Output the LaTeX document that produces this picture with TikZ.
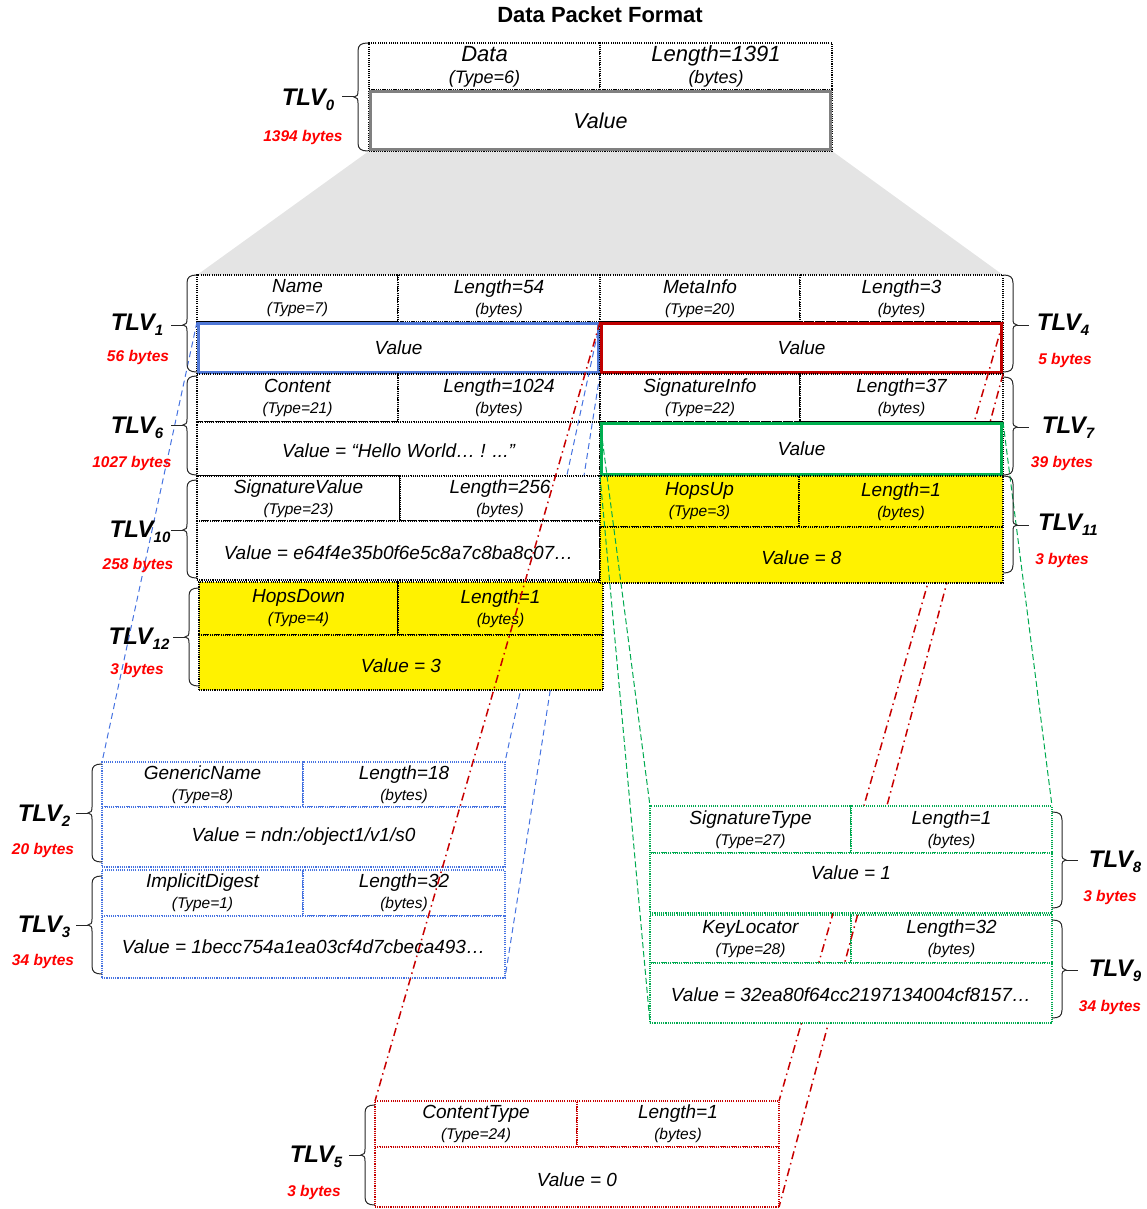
\documentclass[tikz,border=0pt]{standalone}
\usepackage{fontspec}
\setmainfont{Liberation Sans}
\definecolor{bluebox}{RGB}{80,120,215}
\definecolor{blueline}{RGB}{70,115,225}
\definecolor{redbox}{RGB}{192,0,0}
\definecolor{redline}{RGB}{200,0,0}
\definecolor{greenbox}{RGB}{0,176,80}
\definecolor{greenline}{RGB}{0,170,80}
\definecolor{graybox}{RGB}{128,128,128}
\definecolor{trapgray}{RGB}{228,228,228}
\definecolor{bytered}{RGB}{255,0,0}
\newcommand\mainft{\fontsize{19}{21}\selectfont\itshape}
\newcommand\subft{\fontsize{15.5}{17}\selectfont}
\newcommand\tsub[1]{\raisebox{-5pt}{\fontsize{15}{15}\selectfont #1}}
\tikzset{
  cellbox/.style={rectangle, draw=black, fill=white, inner sep=0pt, outer sep=0pt, line width=1.1pt, dash pattern=on 1.1pt off 1.1pt},
  thickbox/.style={rectangle, inner sep=0pt, outer sep=0pt, line width=3.2pt},
  ht/.style={font=\mainft, align=center, inner sep=0pt},
  vt/.style={font=\mainft, inner sep=0pt},
  bluedash/.style={draw=blueline, line width=1pt, dash pattern=on 6pt off 4pt},
  greendash/.style={draw=greenline, line width=1pt, dash pattern=on 6pt off 3pt},
  reddd/.style={draw=redline, line width=1.5pt, dash pattern=on 8pt off 4pt on 1.5pt off 4pt},
  bracestyle/.style={draw=black!85, line width=1pt},
  tlvfont/.style={font=\fontsize{24}{26}\selectfont\bfseries\itshape, inner sep=0pt},
  bytesfont/.style={font=\fontsize{15.5}{17}\selectfont\bfseries\itshape, text=bytered, inner sep=0pt}
}
% single cell: name, x1, y1, x2, y2, style
\newcommand\tcell[6]{\node[cellbox,#6,minimum width={#4-#2},minimum height={#5-#3}] (#1) at ({(#2+#4)/2},{(#3+#5)/2}) {};}
% full TLV: prefix, x1, xm, x2, y1, ym, y2, style
\newcommand\tcells[8]{\tcell{#1-t}{#2}{#5}{#3}{#6}{#8}\tcell{#1-l}{#3}{#5}{#4}{#6}{#8}\tcell{#1-v}{#2}{#6}{#4}{#7}{#8}}
% header texts: prefix, type name, type number, length
\newcommand\thead[4]{%
  \node[ht] (#1-tt) at (#1-t) {#2\\{\subft(Type=#3)}};
  \node[ht] (#1-lt) at (#1-l) {Length=#4\\{\subft(bytes)}};}
% left brace: xb, y1, y2, ym
\newcommand\bracel[4]{%
  \draw[bracestyle] (#1,#2) .. controls (#1-7,#2) and (#1-10,#2+2) .. (#1-10,#2+8) -- (#1-10,#4-6) .. controls (#1-10,#4-2) and (#1-11,#4) .. (#1-14,#4) .. controls (#1-11,#4) and (#1-10,#4+2) .. (#1-10,#4+6) -- (#1-10,#3-8) .. controls (#1-10,#3-2) and (#1-7,#3) .. (#1,#3);
  \draw[bracestyle] (#1-14,#4) -- (#1-26,#4);}
\newcommand\bracer[4]{%
  \draw[bracestyle] (#1,#2) .. controls (#1+7,#2) and (#1+10,#2+2) .. (#1+10,#2+8) -- (#1+10,#4-6) .. controls (#1+10,#4-2) and (#1+11,#4) .. (#1+14,#4) .. controls (#1+11,#4) and (#1+10,#4+2) .. (#1+10,#4+6) -- (#1+10,#3-8) .. controls (#1+10,#3-2) and (#1+7,#3) .. (#1,#3);
  \draw[bracestyle] (#1+14,#4) -- (#1+26,#4);}
% label: name, x, y, sub, bx, by, bytes
\newcommand\tlvlabel[7]{%
  \node[tlvfont] (#1) at (#2,#3) {TLV\tsub{#4}};
  \node[bytesfont] (#1b) at (#5,#6) {#7};}
\begin{document}
\begin{tikzpicture}[x=1pt,y=-1pt]
\useasboundingbox (0,0) rectangle (1146,1209);
\node[font=\fontsize{22}{24}\selectfont\bfseries, inner sep=0pt] (title) at (600,15) {Data Packet Format};
% funnel
\fill[trapgray] (369,151) -- (832,151) -- (1003,275) -- (197,275) -- cycle;
% TLV0
\tcells{d0}{369}{600}{832}{43}{90}{151}{}
\node[thickbox, draw=graybox, minimum width=460, minimum height=58] (d0-vb) at (d0-v) {};
\node[font=\fontsize{22}{22}\selectfont\itshape, align=center, inner sep=0pt] (d0-tt) at (d0-t) {Data\\{\fontsize{18}{18}\selectfont(Type=6)}};
\node[font=\fontsize{22}{22}\selectfont\itshape, align=center, inner sep=0pt] (d0-lt) at (d0-l) {Length=1391\\{\fontsize{18}{18}\selectfont(bytes)}};
\node[font=\fontsize{21.5}{22}\selectfont\itshape, inner sep=0pt] (d0-vt) at (d0-v) {Value};
% blue sub-block (TLV2, TLV3)
\tcells{gn}{102}{303}{505}{762}{807}{867}{draw=blueline}
\thead{gn}{GenericName}{8}{18}
\node[vt] (gn-vt) at (gn-v) {Value = ndn:/object1/v1/s0};
\tcells{id}{102}{303}{505}{870}{916}{978}{draw=blueline}
\thead{id}{ImplicitDigest}{1}{32}
\node[vt] (id-vt) at (id-v) {Value = 1becc754a1ea03cf4d7cbeca493…};
% Name (TLV1)
\tcells{nm}{197}{398}{600}{275}{322}{374}{}
\node[thickbox, draw=bluebox, minimum width=399.8, minimum height=48.8] (nm-vb) at (nm-v) {};
\thead{nm}{Name}{7}{54}
\node[vt] (nm-vt) at (nm-v) {Value};
% Content (TLV6)
\tcells{co}{197}{398}{600}{374}{422}{476}{}
\thead{co}{Content}{21}{1024}
\node[vt] (co-vt) at ([yshift=-2pt]co-v.center) {Value = “Hello World… ! ...”};
% blue connectors
\draw[bluedash] (nm-v.north west) -- (gn-t.north west);
\draw[bluedash] (nm-v.north east) -- (gn-l.north east);
\draw[bluedash] (nm-v.south east) -- (id-v.south east);
% SignatureValue (TLV10)
\tcells{sv}{197}{400}{600}{476}{521}{580}{}
\thead{sv}{SignatureValue}{23}{256}
\node[vt] (sv-vt) at ([yshift=-2pt]sv-v.center) {Value = e64f4e35b0f6e5c8a7c8ba8c07…};
% HopsDown (TLV12)
\tcells{hd}{199}{398}{603}{582}{635}{690}{fill=yellow}
\thead{hd}{HopsDown}{4}{1}
\node[vt] (hd-vt) at ([yshift=-3pt]hd-v.center) {Value = 3};
% MetaInfo (TLV4)
\tcells{mi}{600}{800}{1003}{275}{322}{374}{}
\node[thickbox, draw=redbox, minimum width=399.8, minimum height=48.8] (mi-vb) at (mi-v) {};
\thead{mi}{MetaInfo}{20}{3}
\node[vt] (mi-vt) at (mi-v) {Value};
% SignatureInfo header
\tcell{si-t}{600}{374}{800}{422}{}
\tcell{si-l}{800}{374}{1003}{422}{}
\tcell{si-v}{600}{422}{1003}{476}{}
\thead{si}{SignatureInfo}{22}{37}
% KeyLocator header, ContentType block
\tcell{kl-t}{650}{915}{851}{963}{draw=greenline}
\tcell{kl-l}{851}{915}{1052}{963}{draw=greenline}
\thead{kl}{KeyLocator}{28}{32}
\tcells{ct}{375}{577}{779}{1101}{1147}{1207}{draw=redline}
\thead{ct}{ContentType}{24}{1}
\node[vt] (ct-vt) at ([yshift=-3pt]ct-v.center) {Value = 0};
% red connectors
\draw[reddd] (mi-v.north west) -- (ct-t.north west);
\draw[reddd] (mi-v.north east) -- (ct-l.north east);
\draw[reddd] (mi-v.south east) -- (ct-v.south east);
% SignatureInfo value (TLV7)
\node[thickbox, draw=greenbox, fill=white, minimum width=399.8, minimum height=50.8] (si-vb) at (si-v) {};
\node[vt] (si-vt) at (si-v) {Value};
% HopsUp (TLV11)
\tcells{hu}{600}{799}{1003}{476}{527}{583}{fill=yellow}
\thead{hu}{HopsUp}{3}{1}
\node[vt] (hu-vt) at ([yshift=-3pt]hu-v.center) {Value = 8};
% SignatureType (TLV8), KeyLocator value (TLV9)
\tcells{st}{650}{851}{1052}{806}{853}{913}{draw=greenline}
\thead{st}{SignatureType}{27}{1}
\node[vt] (st-vt) at ([yshift=10pt]st-v.center) {Value = 1};
\tcell{kl-v}{650}{963}{1052}{1023}{draw=greenline}
\node[vt] (kl-vt) at ([yshift=-2pt]kl-v.center) {Value = 32ea80f64cc2197134004cf8157…};
% green connectors
\draw[greendash] (si-v.north west) -- (st-t.north west);
\draw[greendash] (si-v.south west) -- (kl-v.south west);
\draw[greendash] (si-v.north east) -- (st-l.north east);
% braces
\bracel{368}{43}{151}{97}
\bracel{197}{275}{372}{325}
\bracel{197}{376}{475}{425}
\bracel{197}{480}{578}{530}
\bracel{199}{588}{686}{637}
\bracer{1003}{275}{372}{325}
\bracer{1003}{377}{475}{427}
\bracer{1003}{476}{573}{525}
\bracel{102}{764}{862}{813}
\bracel{102}{876}{974}{925}
\bracer{1052}{812}{908}{860}
\bracer{1052}{920}{1018}{970}
\bracel{375}{1105}{1205}{1155}
% labels
\tlvlabel{L0}{308}{100}{0}{303}{137}{1394 bytes}
\tlvlabel{L1}{137}{325}{1}{138}{357}{56 bytes}
\tlvlabel{L6}{137}{428}{6}{132}{463}{1027 bytes}
\tlvlabel{L10}{140}{532}{10}{138}{565}{258 bytes}
\tlvlabel{L12}{139}{639}{12}{137}{670}{3 bytes}
\tlvlabel{L4}{1063}{325}{4}{1065}{360}{5 bytes}
\tlvlabel{L7}{1068}{428}{7}{1062}{463}{39 bytes}
\tlvlabel{L11}{1068}{525}{11}{1062}{560}{3 bytes}
\tlvlabel{L2}{44}{816}{2}{43}{850}{20 bytes}
\tlvlabel{L3}{44}{927}{3}{43}{961}{34 bytes}
\tlvlabel{L8}{1115}{862}{8}{1110}{897}{3 bytes}
\tlvlabel{L9}{1115}{971}{9}{1110}{1007}{34 bytes}
\tlvlabel{L5}{316}{1157}{5}{314}{1192}{3 bytes}
\end{tikzpicture}
\end{document}
